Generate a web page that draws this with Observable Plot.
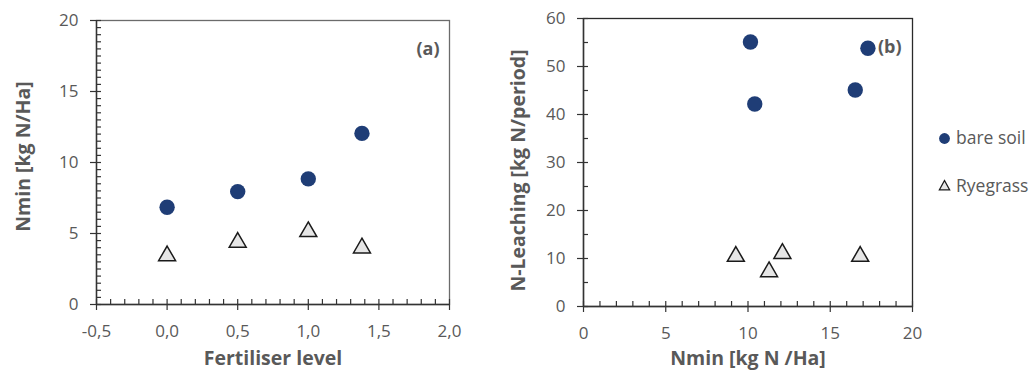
<!DOCTYPE html>
<html><head><meta charset="utf-8">
<script src="https://cdn.jsdelivr.net/npm/d3@7"></script>
<script src="https://cdn.jsdelivr.net/npm/@observablehq/plot@0.6"></script>
<style>
body{margin:0;background:#fff;}
#wrap{position:relative;width:1033px;height:373px;overflow:hidden;font-family:"Open Sans",sans-serif;background:#fff;}
#pa{position:absolute;left:0;top:0;}
#pb{position:absolute;left:480px;top:0;}
.lsym{position:absolute;}
.ltxt{position:absolute;font-size:17.5px;line-height:20px;color:#595959;white-space:nowrap;}
</style></head><body>
<div id="wrap"><div id="pa"></div><div id="pb"></div>
<svg class="lsym" style="left:938px;top:132px" width="13" height="13"><circle cx="6.5" cy="6.5" r="5.4" fill="#1f3d76"/></svg>
<div class="ltxt" style="left:956px;top:127px">bare soil</div>
<svg class="lsym" style="left:938px;top:179px" width="13" height="13"><path d="M6.5,1.5 L11.6,10.8 L1.4,10.8 Z" fill="#e6e6e6" stroke="#1a1a1a" stroke-width="1.3"/></svg>
<div class="ltxt" style="left:956px;top:175px">Ryegrass</div>
</div>
<script>
// Panel (a): Nmin vs fertiliser level
const fertLevel = [0, 0.5, 1.0, 1.38];
const nminBare = [6.85, 7.95, 8.85, 12.05];
const nminRye = [3.6, 4.55, 5.3, 4.15];
// Panel (b): N-leaching vs Nmin
const nminBareB = [10.15, 10.41, 16.52, 17.29];
const leachBare = [55.1, 42.2, 45.1, 53.8];
const nminRyeB = [9.26, 11.28, 12.09, 16.82];
const leachRye = [10.95, 7.75, 11.55, 10.95];
// tick labels
const xTicksA = [-0.5, 0, 0.5, 1.0, 1.5, 2.0];
const yTicksA = [0, 5, 10, 15, 20];
const xTicksB = [0, 5, 10, 15, 20];
const yTicksB = [0, 10, 20, 30, 40, 50, 60];

const navy = "#1f3d76", triFill = "#e6e6e6", triStroke = "#1a1a1a";
const txt = "#595959", axisC = "#333";
const H = 373;
const triR = 6.3, triDy = 2.45, dotR = 7.7;
const fmtComma = d => d.toFixed(1).replace(".", ",");

function panel({width, m, xDomain, yDomain, xTicks, yTicks, xMinor, yMinor, xFmt, bare, rye, xTitle, yTitle, tag, tagDx, tagDy, xTitleDy, yTitleDx, yTitleDy, frameStroke}) {
  const iw = width - m.left - m.right, ih = H - m.top - m.bottom;
  return Plot.plot({
    width, height: H,
    marginTop: m.top, marginRight: m.right, marginBottom: m.bottom, marginLeft: m.left,
    x: {domain: xDomain}, y: {domain: yDomain},
    style: {fontFamily: "'Open Sans', sans-serif", fontSize: "17px", color: txt, background: "white", overflow: "visible"},
    marks: [
      Plot.frame({stroke: frameStroke, strokeWidth: 1.3}),
      Plot.ruleX(xMinor, {x: d => d, insetTop: ih - 5, stroke: axisC, strokeWidth: 1.2}),
      Plot.ruleY(yMinor, {y: d => d, insetRight: iw - 5, stroke: axisC, strokeWidth: 1.2}),
      Plot.axisX({ticks: xTicks, tickSize: 6, tickPadding: 14, tickFormat: xFmt, stroke: axisC, fill: txt, label: null, strokeWidth: 1.2, fontSize: 17}),
      Plot.axisY({ticks: yTicks, tickSize: 6, tickPadding: 12, stroke: axisC, fill: txt, label: null, strokeWidth: 1.2, fontSize: 17}),
      Plot.ruleX([xDomain[0]], {stroke: axisC, strokeWidth: 1.4}),
      Plot.ruleY([yDomain[0]], {stroke: axisC, strokeWidth: 1.4}),
      Plot.dot(bare, {x: "x", y: "y", r: dotR, fill: navy, stroke: null}),
      Plot.dot(rye, {x: "x", y: "y", r: triR, symbol: "triangle", dy: triDy, fill: triFill, stroke: triStroke, strokeWidth: 1.5}),
      Plot.text([tag], {text: d => d, frameAnchor: "top-right", textAnchor: "end", dx: tagDx, dy: tagDy, fontWeight: "bold", fontSize: 18, fill: txt}),
      Plot.text([xTitle], {text: d => d, frameAnchor: "bottom", textAnchor: "middle", dy: xTitleDy, fontWeight: "bold", fontSize: 19.5, fill: txt}),
      Plot.text([yTitle], {text: d => d, frameAnchor: "left", textAnchor: "middle", rotate: -90, dx: yTitleDx, dy: yTitleDy, fontWeight: "bold", fontSize: 19.5, fill: txt})
    ]
  });
}

const bareA = fertLevel.map((x, i) => ({x, y: nminBare[i]}));
const ryeA = fertLevel.map((x, i) => ({x, y: nminRye[i]}));
const bareB = nminBareB.map((x, i) => ({x, y: leachBare[i]}));
const ryeB = nminRyeB.map((x, i) => ({x, y: leachRye[i]}));

document.getElementById("pa").append(panel({
  width: 470, m: {top: 20, right: 21, bottom: 69, left: 96},
  xDomain: [-0.5, 2], yDomain: [0, 20], xTicks: xTicksA, yTicks: yTicksA,
  xMinor: d3.range(-5, 21).map(d => d / 10), yMinor: d3.range(0, 41).map(d => d / 2),
  xFmt: fmtComma, bare: bareA, rye: ryeA,
  xTitle: "Fertiliser level", yTitle: "Nmin [kg N/Ha]", tag: "(a)", tagDx: -10, tagDy: 22,
  xTitleDy: 60, yTitleDx: -73, yTitleDy: -6, frameStroke: "#6b6b6b"
}));

document.getElementById("pb").append(panel({
  width: 440, m: {top: 18, right: 8, bottom: 67, left: 103},
  xDomain: [0, 20], yDomain: [0, 60], xTicks: xTicksB, yTicks: yTicksB,
  xMinor: d3.range(0, 21), yMinor: d3.range(0, 61, 5),
  xFmt: d => String(d), bare: bareB, rye: ryeB,
  xTitle: "Nmin [kg N /Ha]", yTitle: "N-Leaching [kg N/period]", tag: "(b)", tagDx: -11, tagDy: 22,
  xTitleDy: 58, yTitleDx: -65, yTitleDy: 8, frameStroke: "#2a2a2a"
}));
</script>
</body></html>
